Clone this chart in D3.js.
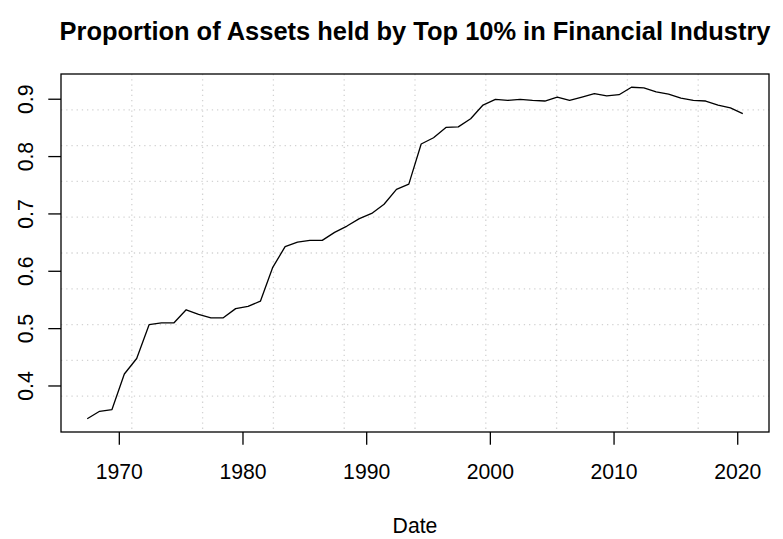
<!DOCTYPE html>
<html>
<head>
<meta charset="utf-8">
<script src="https://cdn.jsdelivr.net/npm/d3@7"></script>
<style>
  body { margin: 0; background: #fff; }
  svg text { font-family: "Liberation Sans", Arial, Helvetica, sans-serif; fill: #000; }
</style>
</head>
<body>
<div id="chart"></div>
<script>
var years = [1967, 1968, 1969, 1970, 1971, 1972, 1973, 1974, 1975, 1976,
             1977, 1978, 1979, 1980, 1981, 1982, 1983, 1984, 1985, 1986,
             1987, 1988, 1989, 1990, 1991, 1992, 1993, 1994, 1995, 1996,
             1997, 1998, 1999, 2000, 2001, 2002, 2003, 2004, 2005, 2006,
             2007, 2008, 2009, 2010, 2011, 2012, 2013, 2014, 2015, 2016,
             2017, 2018, 2019, 2020];
var shares = [0.342, 0.355, 0.358, 0.420, 0.447, 0.506, 0.509, 0.509, 0.532, 0.524,
              0.518, 0.518, 0.534, 0.538, 0.547, 0.606, 0.642, 0.650, 0.653, 0.653,
              0.667, 0.678, 0.691, 0.700, 0.716, 0.742, 0.751, 0.821, 0.832, 0.850,
              0.851, 0.865, 0.889, 0.899, 0.897, 0.899, 0.897, 0.896, 0.903, 0.897,
              0.903, 0.909, 0.905, 0.907, 0.920, 0.919, 0.912, 0.908, 0.901, 0.897,
              0.896, 0.889, 0.884, 0.874];
var xTickYears = [1970, 1980, 1990, 2000, 2010, 2020];
var yTicks = [0.4, 0.5, 0.6, 0.7, 0.8, 0.9];
var title = "Proportion of Assets held by Top 10% in Financial Industry";
var xLabel = "Date";

var data = years.map(function(y, i) {
  return { date: new Date(y, 5, 13), value: shares[i] };
});

var W = 783, H = 539;
var margin = {top: 74, right: 14, bottom: 107, left: 61},
    width = W - margin.left - margin.right,
    height = H - margin.top - margin.bottom;
var fontSize = 21.2, lineH = 1.2 * fontSize;

// R style axis extension: 4% on each side
function pad(ext) {
  var a = +ext[0], b = +ext[1], d = (b - a) * 0.04;
  return [a - d, b + d];
}

var xExt = pad(d3.extent(data, function(d) { return d.date; }));
var x = d3.scaleTime()
    .domain([new Date(xExt[0]), new Date(xExt[1])])
    .range([0, width]);
var y = d3.scaleLinear()
    .domain(pad(d3.extent(data, function(d) { return d.value; })))
    .range([height, 0]);

var svg = d3.select("#chart").append("svg")
    .attr("width", W)
    .attr("height", H);
svg.append("rect").attr("width", W).attr("height", H).attr("fill", "#fff");

var g = svg.append("g")
    .attr("transform", "translate(" + margin.left + "," + margin.top + ")");

// grid(10, 10): equally spaced dotted lines
var gx = d3.range(1, 10).map(function(k) { return k * width / 10; });
var gy = d3.range(1, 10).map(function(k) { return k * height / 10; });
g.selectAll(".gridx").data(gx).enter().append("line")
    .attr("x1", function(d) { return d; }).attr("x2", function(d) { return d; })
    .attr("y1", 0).attr("y2", height)
    .attr("stroke", "#d3d3d3").attr("stroke-width", 1.3)
    .attr("stroke-dasharray", "1.3,3.9");
g.selectAll(".gridy").data(gy).enter().append("line")
    .attr("y1", function(d) { return d; }).attr("y2", function(d) { return d; })
    .attr("x1", 0).attr("x2", width)
    .attr("stroke", "#d3d3d3").attr("stroke-width", 1.3)
    .attr("stroke-dasharray", "1.3,3.9");

// the series
var line = d3.line()
    .x(function(d) { return x(d.date); })
    .y(function(d) { return y(d.value); });
g.append("path")
    .datum(data)
    .attr("fill", "none")
    .attr("stroke", "#000")
    .attr("stroke-width", 1.3)
    .attr("stroke-linejoin", "round")
    .attr("d", line);

// box
g.append("rect")
    .attr("width", width).attr("height", height)
    .attr("fill", "none").attr("stroke", "#000").attr("stroke-width", 1.3);

// x axis
var xAxis = g.append("g")
    .attr("transform", "translate(0," + height + ")")
    .call(d3.axisBottom(x)
      .tickValues(xTickYears.map(function(yr) { return new Date(yr, 0, 1); }))
      .tickFormat(d3.timeFormat("%Y"))
      .tickSize(lineH / 2)
      .tickSizeOuter(0));
xAxis.select(".domain").remove();
xAxis.selectAll("line").attr("stroke", "#000").attr("stroke-width", 1.3);
xAxis.selectAll("text")
    .attr("y", 1.8 * lineH + 1.5)
    .attr("dy", 0)
    .style("font-size", fontSize + "px");

// y axis
var yAxis = g.append("g")
    .call(d3.axisLeft(y)
      .tickValues(yTicks)
      .tickFormat(d3.format(".1f"))
      .tickSize(lineH / 2)
      .tickSizeOuter(0));
yAxis.select(".domain").remove();
yAxis.selectAll("line").attr("stroke", "#000").attr("stroke-width", 1.3);
yAxis.selectAll("text")
    .attr("x", 0).attr("y", 0).attr("dy", 0)
    .attr("text-anchor", "middle")
    .attr("transform", "translate(" + (-1.1 * lineH) + ",0) rotate(-90)")
    .style("font-size", fontSize + "px");

// titles
svg.append("text")
    .attr("x", margin.left + width / 2)
    .attr("y", 40)
    .attr("text-anchor", "middle")
    .style("font-size", (1.2 * fontSize) + "px")
    .style("font-weight", "bold")
    .text(title);

svg.append("text")
    .attr("x", margin.left + width / 2)
    .attr("y", margin.top + height + 3.8 * lineH + 4)
    .attr("text-anchor", "middle")
    .style("font-size", fontSize + "px")
    .text(xLabel);
</script>
</body>
</html>
